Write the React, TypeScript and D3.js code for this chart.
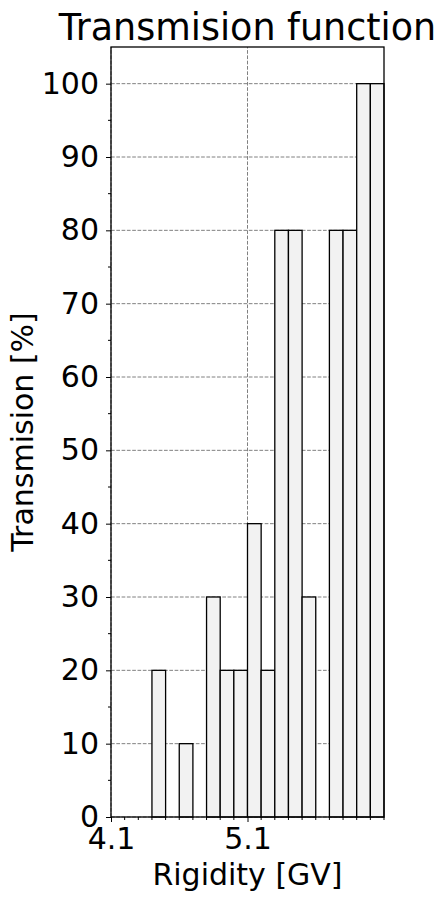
import { useEffect, useRef } from "react";
import * as d3 from "d3";

// bin left edges (GV), each bin is 0.1 wide
const binStarts = [4.1, 4.2, 4.3, 4.4, 4.5, 4.6, 4.7, 4.8, 4.9, 5.0, 5.1, 5.2, 5.3, 5.4, 5.5, 5.6, 5.7, 5.8, 5.9, 6.0];
const transmission = [0, 0, 0, 20, 0, 10, 0, 30, 20, 20, 40, 20, 80, 80, 30, 0, 80, 80, 100, 100];
const xTickLabels = [4.1, 5.1];
const yTickLabels = [0, 10, 20, 30, 40, 50, 60, 70, 80, 90, 100];

const binWidth = 0.1;

export default function App() {
  const svgRef = useRef(null);

  useEffect(() => {
    const width = 447;
    const height = 900;
    const margin = { top: 47, right: 63, bottom: 83, left: 111 };
    const font = "DejaVu Sans, sans-serif";

    const svg = d3.select(svgRef.current).attr("width", width).attr("height", height);
    svg.selectAll("*").remove();

    const x = d3
      .scaleLinear()
      .domain([4.1, 6.1])
      .range([margin.left, width - margin.right]);
    const y = d3
      .scaleLinear()
      .domain([0, 105])
      .range([height - margin.bottom, margin.top]);

    // grid
    svg
      .append("g")
      .selectAll("line")
      .data(yTickLabels)
      .enter()
      .append("line")
      .attr("x1", x(4.1))
      .attr("x2", x(6.1))
      .attr("y1", (d) => y(d))
      .attr("y2", (d) => y(d))
      .attr("stroke", "#808080")
      .attr("stroke-width", 1)
      .attr("stroke-dasharray", "3.7,1.6");

    svg
      .append("g")
      .selectAll("line")
      .data(xTickLabels)
      .enter()
      .append("line")
      .attr("x1", (d) => x(d))
      .attr("x2", (d) => x(d))
      .attr("y1", y(0))
      .attr("y2", y(105))
      .attr("stroke", "#808080")
      .attr("stroke-width", 1)
      .attr("stroke-dasharray", "3.7,1.6");

    // bars
    svg
      .append("g")
      .selectAll("rect")
      .data(binStarts)
      .enter()
      .append("rect")
      .attr("x", (d) => x(d))
      .attr("width", (d) => x(d + binWidth) - x(d))
      .attr("y", (d, i) => y(transmission[i]))
      .attr("height", (d, i) => y(0) - y(transmission[i]))
      .attr("fill", "#f2f2f2")
      .attr("stroke", "#000")
      .attr("stroke-width", 1.3);

    // axes
    const yAxis = d3
      .axisLeft(y)
      .tickValues(yTickLabels)
      .tickSize(5)
      .tickPadding(7)
      .tickFormat(d3.format("d"));
    const gy = svg.append("g").attr("transform", `translate(${margin.left},0)`).call(yAxis);
    gy.select(".domain").remove();
    gy.selectAll("text").attr("font-size", 30).attr("font-family", font).attr("fill", "#000");

    const yMinor = d3.range(5, 105, 10);
    svg
      .append("g")
      .selectAll("line")
      .data(yMinor)
      .enter()
      .append("line")
      .attr("x1", margin.left - 3)
      .attr("x2", margin.left)
      .attr("y1", (d) => y(d))
      .attr("y2", (d) => y(d))
      .attr("stroke", "#000")
      .attr("stroke-width", 1);

    const xAxis = d3
      .axisBottom(x)
      .tickValues(xTickLabels)
      .tickSize(5)
      .tickPadding(6)
      .tickFormat(d3.format(".1f"));
    const gx = svg
      .append("g")
      .attr("transform", `translate(0,${height - margin.bottom})`)
      .call(xAxis);
    gx.select(".domain").remove();
    gx.selectAll("text").attr("font-size", 30).attr("font-family", font).attr("fill", "#000");

    svg
      .append("g")
      .selectAll("line")
      .data(binStarts.concat([6.1]).filter((d) => !xTickLabels.includes(d)))
      .enter()
      .append("line")
      .attr("x1", (d) => x(d))
      .attr("x2", (d) => x(d))
      .attr("y1", y(0))
      .attr("y2", y(0) + 3)
      .attr("stroke", "#000")
      .attr("stroke-width", 1);

    // frame
    svg
      .append("rect")
      .attr("x", margin.left)
      .attr("y", margin.top)
      .attr("width", width - margin.left - margin.right)
      .attr("height", height - margin.top - margin.bottom)
      .attr("fill", "none")
      .attr("stroke", "#000")
      .attr("stroke-width", 1.3);

    // labels
    svg
      .append("text")
      .attr("x", (margin.left + width - margin.right) / 2)
      .attr("y", 40)
      .attr("text-anchor", "middle")
      .attr("font-family", font)
      .attr("font-size", 36.5)
      .text("Transmision function");

    svg
      .append("text")
      .attr("x", (margin.left + width - margin.right) / 2)
      .attr("y", 885)
      .attr("text-anchor", "middle")
      .attr("font-family", font)
      .attr("font-size", 30)
      .text("Rigidity [GV]");

    svg
      .append("text")
      .attr("transform", `translate(33,${(margin.top + height - margin.bottom) / 2}) rotate(-90)`)
      .attr("text-anchor", "middle")
      .attr("font-family", font)
      .attr("font-size", 30)
      .text("Transmision [%]");
  }, []);

  return <svg ref={svgRef} style={{ position: "absolute", left: 0, top: 0 }}></svg>;
}
